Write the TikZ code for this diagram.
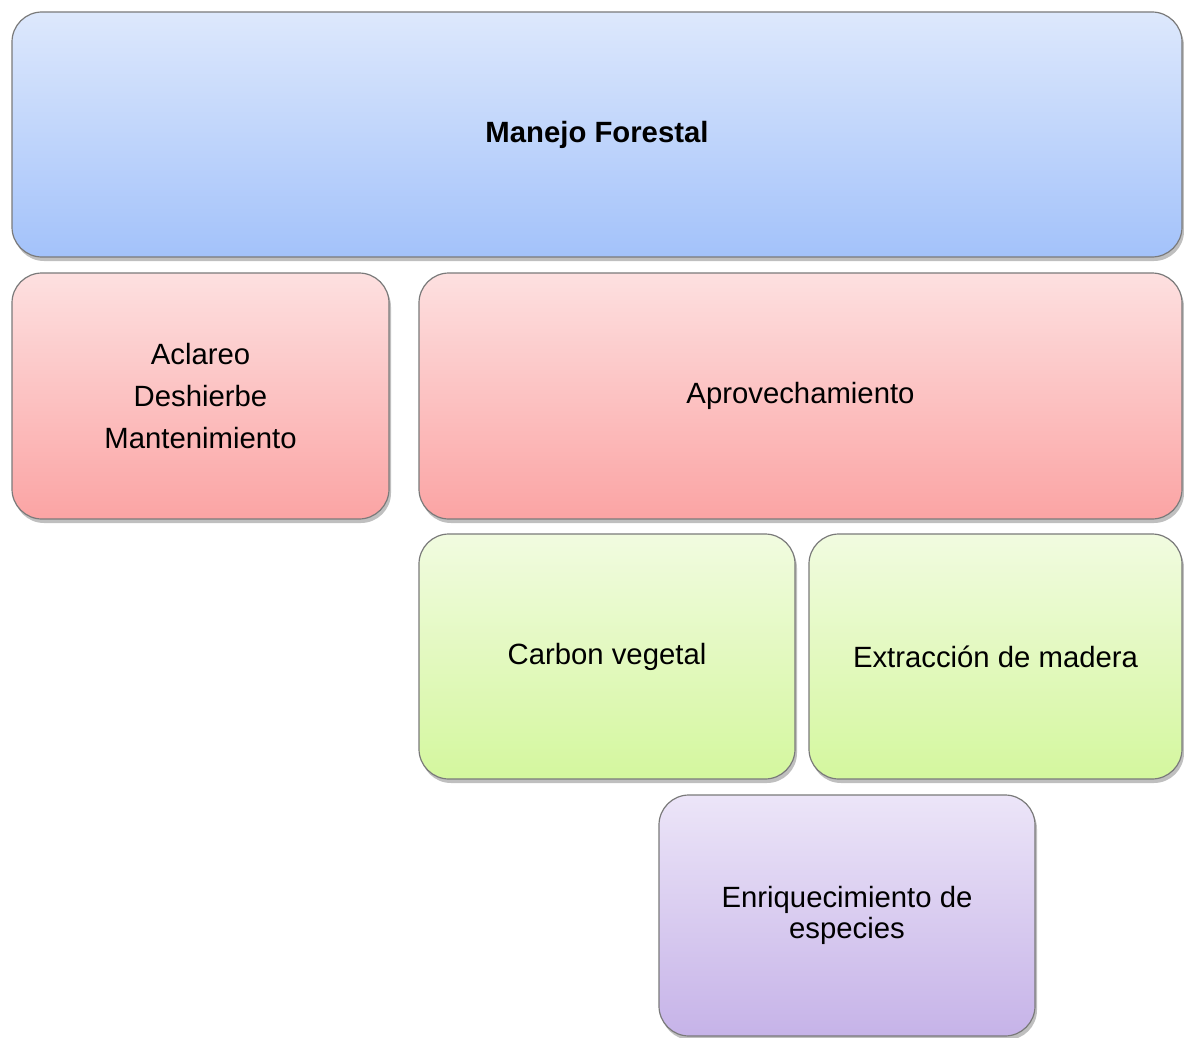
\documentclass[tikz,border=0pt]{standalone}
\usepackage{fontspec}
\setmainfont{Liberation Sans}
\usetikzlibrary{shadows}

\definecolor{blueTop}{HTML}{DDE8FC}
\definecolor{blueBot}{HTML}{A3C2FA}
\definecolor{redTop}{HTML}{FDE0E0}
\definecolor{redBot}{HTML}{FBA4A4}
\definecolor{greenTop}{HTML}{F1FBE0}
\definecolor{greenBot}{HTML}{D4F79E}
\definecolor{purpleTop}{HTML}{ECE5F8}
\definecolor{purpleBot}{HTML}{C6B3E8}
\definecolor{edgeGray}{HTML}{7A7A7A}

\tikzset{
  box/.style={draw=edgeGray, line width=1.2pt, rounded corners=30pt,
    inner sep=0pt, outer sep=0pt, align=center,
    font=\fontsize{29.3}{42}\selectfont,
    drop shadow={shadow xshift=2pt, shadow yshift=-4pt, opacity=0.25, fill=black}},
  bluebox/.style={box, top color=blueTop, bottom color=blueBot},
  redbox/.style={box, top color=redTop, bottom color=redBot},
  greenbox/.style={box, top color=greenTop, bottom color=greenBot},
  purplebox/.style={box, top color=purpleTop, bottom color=purpleBot,
    font=\fontsize{29.3}{31}\selectfont}
}

\begin{document}
\begin{tikzpicture}[x=1pt, y=-1pt]
      \useasboundingbox (0, 0) rectangle (1184, 1038);

      % Nivel superior
      \node[bluebox, minimum width=1170pt, minimum height=245pt] (forestal) at (597, 134.5) {\textbf{Manejo Forestal}};

      % Segundo nivel
      \node[redbox, minimum width=377pt, minimum height=246pt] (labores) at (200.5, 396) {Aclareo\\Deshierbe\\Mantenimiento};
      \node[redbox, minimum width=763pt, minimum height=246pt] (aprov) at (800.5, 396) {Aprovechamiento};

      % Tercer nivel
      \node[greenbox, minimum width=376pt, minimum height=245pt] (carbon) at (607, 656.5) {Carbon vegetal};
      \node[greenbox, minimum width=373pt, minimum height=245pt] (madera) at (995.5, 656.5) {Extracción de madera};

      % Cuarto nivel
      \node[purplebox, minimum width=376pt, minimum height=241pt] (enriq) at (847, 915.5) {Enriquecimiento de\\especies};
    \end{tikzpicture}
\end{document}
